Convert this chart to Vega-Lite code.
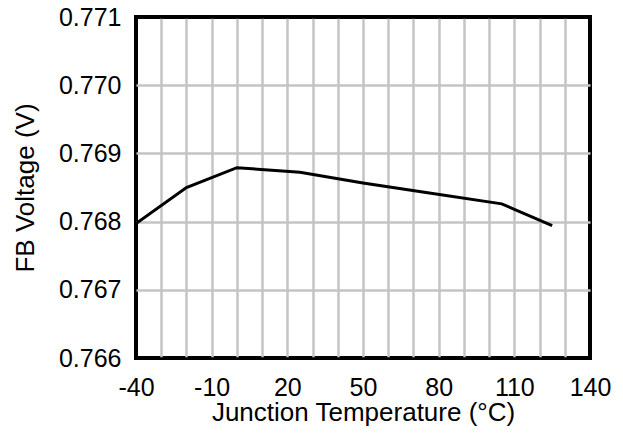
{
  "$schema": "https://vega.github.io/schema/vega-lite/v6.json",
  "autosize": "none",
  "width": 454,
  "height": 341,
  "padding": {"left": 136, "top": 17, "right": 33, "bottom": 76},
  "background": "white",
  "config": {
    "font": "Liberation Sans",
    "view": {"stroke": "black", "strokeWidth": 4},
    "axis": {
      "labelFont": "Liberation Sans",
      "titleFont": "Liberation Sans",
      "labelFontSize": 25,
      "titleFontSize": 26,
      "labelColor": "black",
      "titleColor": "black",
      "titleFontWeight": "normal",
      "domain": false,
      "ticks": false,
      "tickSize": 0,
      "gridWidth": 2.5,
      "gridOpacity": 1
    }
  },
  "data": {
    "values": [
      {"t": -40, "v": 0.76797},
      {"t": -20, "v": 0.7685},
      {"t": 0, "v": 0.76879},
      {"t": 25, "v": 0.768725},
      {"t": 50, "v": 0.768566},
      {"t": 75, "v": 0.768426},
      {"t": 105, "v": 0.76826},
      {"t": 125, "v": 0.76794}
    ]
  },
  "mark": {"type": "line", "color": "black", "strokeWidth": 3, "clip": true},
  "encoding": {
    "x": {
      "field": "t",
      "type": "quantitative",
      "scale": {"domain": [-40, 140], "nice": false, "zero": false},
      "axis": {
        "title": "Junction Temperature (°C)",
        "values": [-40, -30, -20, -10, 0, 10, 20, 30, 40, 50, 60, 70, 80, 90, 100, 110, 120, 130, 140],
        "labelExpr": "(datum.value + 40) % 30 == 0 ? '' + datum.value : ''",
        "gridColor": {"condition": {"test": "datum.value == -40 || datum.value == 140", "value": "black"}, "value": "#c4c4c4"},
        "labelPadding": 17,
        "labelFlush": false,
        "labelOverlap": false,
        "titleY": 62,
        "titleBaseline": "alphabetic"
      }
    },
    "y": {
      "field": "v",
      "type": "quantitative",
      "scale": {"domain": [0.766, 0.771], "nice": false, "zero": false},
      "axis": {
        "title": "FB Voltage (V)",
        "values": [0.766, 0.767, 0.768, 0.769, 0.77, 0.771],
        "format": ".3f",
        "gridColor": {"condition": {"test": "datum.value == 0.766 || datum.value == 0.771", "value": "black"}, "value": "#c4c4c4"},
        "labelPadding": 15,
        "labelFlush": false,
        "labelOverlap": false,
        "titleX": -103,
        "titleBaseline": "alphabetic"
      }
    }
  }
}
